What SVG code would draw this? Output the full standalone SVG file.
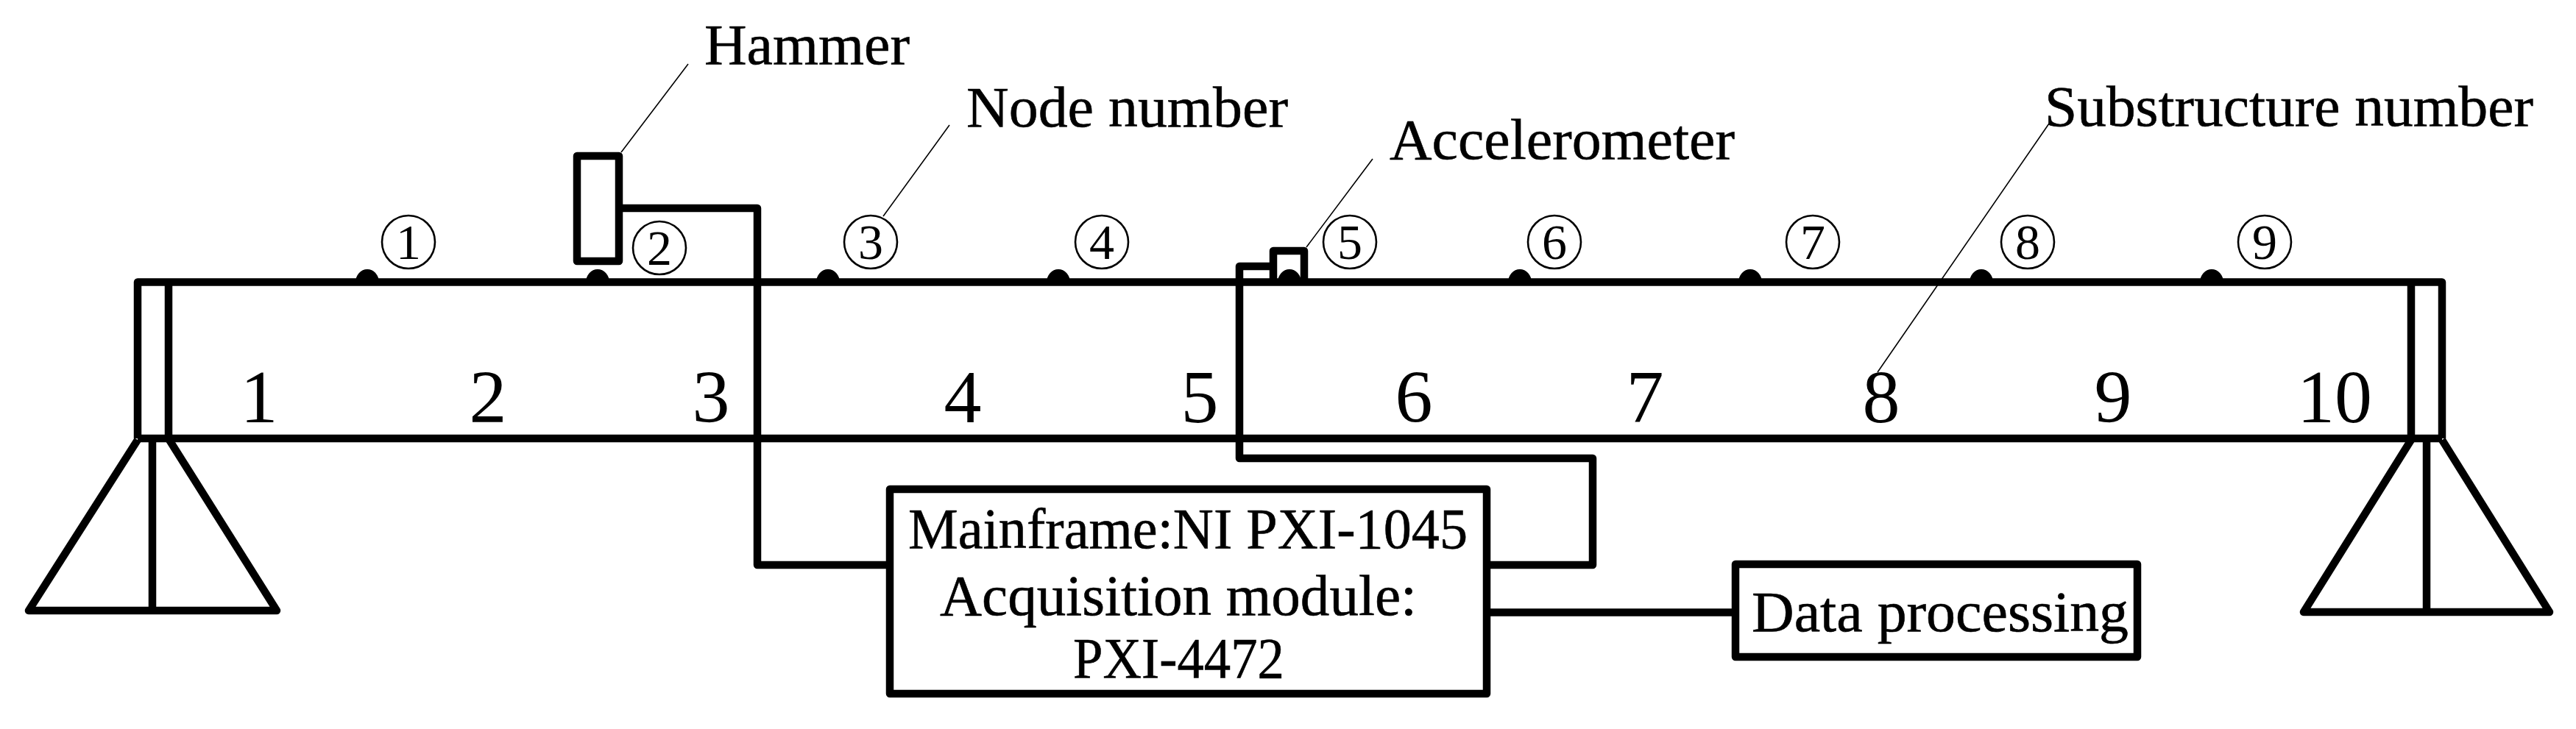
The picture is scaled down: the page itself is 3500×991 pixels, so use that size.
<svg xmlns="http://www.w3.org/2000/svg" width="3500" height="991" viewBox="0 0 3500 991">
<style>
.k{fill:none;stroke:#000;stroke-width:10.5;stroke-linejoin:round;stroke-linecap:butt}
.b{fill:#fff;stroke:#000;stroke-width:10.5;stroke-linejoin:round}
.t{fill:none;stroke:#000;stroke-width:1.6}
.c{fill:none;stroke:#000;stroke-width:2.6}
.d{fill:#000;stroke:none}
text{font-family:"Liberation Serif","Times New Roman",serif;fill:#000}
.l{font-size:79px;stroke:#000;stroke-width:.6}
.n{font-size:102px;text-anchor:middle}
.o{font-size:68px;text-anchor:middle}
</style>
<rect width="3500" height="991" fill="#fff"/>
<g id="beam">
<path class="k" d="M187 596V383.500H3318V596M229 383.500V596M3276 383.500V596M187 596H3318"/>
</g>
<g id="support-left">
<path class="k" d="M187 598L39 830H376L230 598M207 598V830"/>
</g>
<g id="support-right">
<path class="k" d="M3276 598L3130 832H3464L3318 598M3297 598V832"/>
</g>
<g id="sensor-dots">
<path class="d" d="M483 384a16 18 0 0 1 32 0zM796 384a16 18 0 0 1 32 0zM1109 384a16 18 0 0 1 32 0zM1422 384a16 18 0 0 1 32 0zM1736 384a16 18 0 0 1 32 0zM2049 384a16 18 0 0 1 32 0zM2362 384a16 18 0 0 1 32 0zM2676 384a16 18 0 0 1 32 0zM2989 384a16 18 0 0 1 32 0z"/>
</g>
<g id="hammer">
<rect class="k" x="784" y="212" width="57" height="143"/>
</g>
<g id="accelerometer">
<path class="k" d="M1730 384V341H1772V384"/>
</g>
<g id="connectors">
<path class="k" d="M841 283H1029V768H1209"/>
<path class="k" d="M2020 768H2164V623H1684V362H1730"/>
<path class="k" d="M2020 832.500H2358"/>
<path class="t" d="M935 87L844 207M1290 170L1200 294M1865 216L1775 336M2784 168L2551 506"/>
</g>
<g id="acquisition">
<rect class="b" x="1209" y="665" width="811" height="278"/>
<text class="l" x="1234" y="745" textLength="760" lengthAdjust="spacingAndGlyphs">Mainframe:NI PXI-1045</text>
<text class="l" x="1277" y="836" textLength="648" lengthAdjust="spacingAndGlyphs">Acquisition module:</text>
<text class="l" x="1458" y="921" textLength="287" lengthAdjust="spacingAndGlyphs">PXI-4472</text>
</g>
<g id="data-processing">
<rect class="b" x="2358" y="767" width="546" height="126"/>
<text class="l" x="2380" y="858" textLength="512" lengthAdjust="spacingAndGlyphs">Data processing</text>
</g>
<g id="callouts">
<text class="l" x="957" y="87" textLength="279" lengthAdjust="spacingAndGlyphs">Hammer</text>
<text class="l" x="1313" y="172" textLength="437" lengthAdjust="spacingAndGlyphs">Node number</text>
<text class="l" x="1888" y="216" textLength="469" lengthAdjust="spacingAndGlyphs">Accelerometer</text>
<text class="l" x="2778" y="171" textLength="664" lengthAdjust="spacingAndGlyphs">Substructure number</text>
</g>
<g id="substructure-numbers">
<text class="n" x="352" y="574">1</text>
<text class="n" x="663" y="574">2</text>
<text class="n" x="966" y="574">3</text>
<text class="n" x="1308" y="574">4</text>
<text class="n" x="1630" y="574">5</text>
<text class="n" x="1921" y="574">6</text>
<text class="n" x="2235" y="574">7</text>
<text class="n" x="2556" y="574">8</text>
<text class="n" x="2871" y="574">9</text>
<text class="n" x="3172" y="574">10</text>
</g>
<g id="node-1"><circle class="c" cx="555" cy="329" r="36"/><text class="o" x="555" y="352">1</text></g>
<g id="node-2"><circle class="c" cx="896" cy="337" r="36"/><text class="o" x="896" y="360">2</text></g>
<g id="node-3"><circle class="c" cx="1183" cy="329" r="36"/><text class="o" x="1183" y="352">3</text></g>
<g id="node-4"><circle class="c" cx="1497" cy="329" r="36"/><text class="o" x="1497" y="352">4</text></g>
<g id="node-5"><circle class="c" cx="1834" cy="329" r="36"/><text class="o" x="1834" y="352">5</text></g>
<g id="node-6"><circle class="c" cx="2112" cy="329" r="36"/><text class="o" x="2112" y="352">6</text></g>
<g id="node-7"><circle class="c" cx="2463" cy="329" r="36"/><text class="o" x="2463" y="352">7</text></g>
<g id="node-8"><circle class="c" cx="2755" cy="329" r="36"/><text class="o" x="2755" y="352">8</text></g>
<g id="node-9"><circle class="c" cx="3077" cy="329" r="36"/><text class="o" x="3077" y="352">9</text></g>
</svg>
